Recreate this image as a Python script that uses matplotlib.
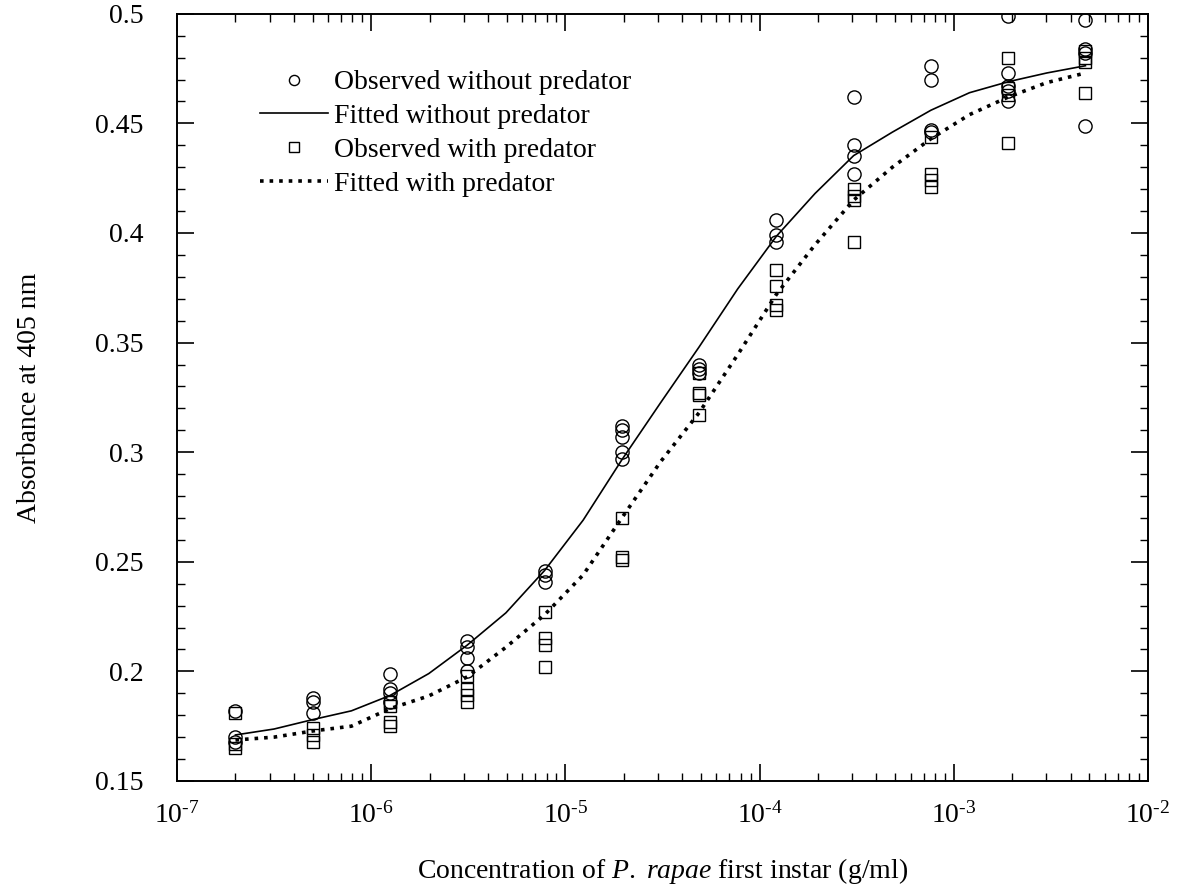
import matplotlib.pyplot as plt
import numpy as np

# serif look like the original (Times-ish)
plt.rcParams['font.family'] = 'Liberation Serif'
plt.rcParams['mathtext.fontset'] = 'custom'
plt.rcParams['mathtext.rm'] = 'Liberation Serif'
plt.rcParams['mathtext.it'] = 'Liberation Serif:italic'

# concentrations (g/ml), 2.5-fold dilution series
conc = [2e-7, 5e-7, 1.25e-6, 3.125e-6, 7.8125e-6, 1.953e-5,
        4.883e-5, 1.221e-4, 3.052e-4, 7.629e-4, 1.907e-3, 4.768e-3]

# observed absorbance, without predator (circles)
obs_without = [
    [0.182, 0.170, 0.168],
    [0.188, 0.186, 0.181],
    [0.199, 0.192, 0.190, 0.186],
    [0.214, 0.211, 0.206, 0.200],
    [0.246, 0.244, 0.241],
    [0.312, 0.310, 0.307, 0.300, 0.297],
    [0.340, 0.338, 0.336],
    [0.406, 0.399, 0.396],
    [0.462, 0.440, 0.435, 0.427],
    [0.476, 0.470, 0.447, 0.446],
    [0.499, 0.473, 0.467, 0.465, 0.460],
    [0.497, 0.484, 0.482, 0.449],
]

# observed absorbance, with predator (squares)
obs_with = [
    [0.181, 0.167, 0.165],
    [0.174, 0.171, 0.168],
    [0.186, 0.184, 0.177, 0.175],
    [0.198, 0.192, 0.189, 0.186],
    [0.227, 0.215, 0.212, 0.202],
    [0.270, 0.252, 0.251],
    [0.336, 0.327, 0.326, 0.317],
    [0.383, 0.376, 0.367, 0.365],
    [0.420, 0.417, 0.415, 0.396],
    [0.444, 0.427, 0.424, 0.421],
    [0.480, 0.466, 0.463, 0.441],
    [0.483, 0.480, 0.478, 0.464],
]

# fitted curves
fit_x = [2e-7, 3.16e-7, 5e-7, 7.91e-7, 1.25e-6, 1.98e-6, 3.125e-6, 4.94e-6,
         7.8125e-6, 1.235e-5, 1.953e-5, 3.09e-5, 4.883e-5, 7.72e-5, 1.221e-4,
         1.93e-4, 3.052e-4, 4.83e-4, 7.629e-4, 1.206e-3, 1.907e-3, 3.015e-3,
         4.768e-3]
fit_without = [0.171, 0.1737, 0.178, 0.182, 0.189, 0.199, 0.212, 0.2267,
               0.246, 0.269, 0.2965, 0.3225, 0.3480, 0.3745, 0.3985, 0.4180,
               0.4353, 0.446, 0.456, 0.464, 0.469, 0.473, 0.4763]
fit_with = [0.1687, 0.170, 0.1728, 0.175, 0.183, 0.1888, 0.1975, 0.211,
            0.2258, 0.244, 0.270, 0.2956, 0.318, 0.3445, 0.372, 0.3946,
            0.415, 0.430, 0.443, 0.454, 0.462, 0.4686, 0.473]

xtick_vals = [1e-7, 1e-6, 1e-5, 1e-4, 1e-3, 1e-2]
xtick_labels = [r'$10^{\text{-}7}$', r'$10^{\text{-}6}$', r'$10^{\text{-}5}$',
                r'$10^{\text{-}4}$', r'$10^{\text{-}3}$', r'$10^{\text{-}2}$']
ytick_vals = [0.15, 0.2, 0.25, 0.3, 0.35, 0.4, 0.45, 0.5]
ytick_labels = ['0.15', '0.2', '0.25', '0.3', '0.35', '0.4', '0.45', '0.5']

fig = plt.figure(figsize=(11.84, 8.9), dpi=100)
ax = fig.add_axes([0.1495, 0.1225, 0.82, 0.862])

xs_o = [c for c, grp in zip(conc, obs_without) for _ in grp]
ys_o = [v for grp in obs_without for v in grp]
xs_s = [c for c, grp in zip(conc, obs_with) for _ in grp]
ys_s = [v for grp in obs_with for v in grp]

ax.plot(xs_o, ys_o, 'o', mfc='none', mec='black', ms=9.5, mew=1.0,
        label='Observed without predator')
ax.plot(fit_x, fit_without, '-', color='black', lw=1.2,
        label='Fitted without predator')
ax.plot(xs_s, ys_s, 's', mfc='none', mec='black', ms=9, mew=1.0,
        label='Observed with predator')
ax.plot(fit_x, fit_with, ':', color='black', lw=2.6,
        label='Fitted with predator')

ax.set_xscale('log')
ax.set_xlim(1e-7, 1e-2)
ax.set_ylim(0.15, 0.5)
ax.set_yticks(ytick_vals)
ax.set_yticklabels(ytick_labels)
ax.set_yticks(np.arange(0.15, 0.501, 0.01), minor=True)
ax.set_xticks(xtick_vals)
ax.set_xticklabels(xtick_labels)

ax.tick_params(which='both', direction='in', top=True, right=True)
ax.tick_params(which='major', length=12, width=1.2)
ax.tick_params(which='minor', length=6, width=1.0)
ax.tick_params(axis='y', which='major', labelsize=20, pad=24)
ax.tick_params(axis='x', which='major', labelsize=20, pad=15)
for s in ax.spines.values():
    s.set_linewidth(1.4)

ax.set_xlabel(r'Concentration of $\mathit{P.}$ $\mathit{rapae}$ first instar (g/ml)',
              fontsize=20, labelpad=20)
ax.set_ylabel('Absorbance at 405 nm', fontsize=20, labelpad=38)

ax.legend(loc='upper left', bbox_to_anchor=(0.0855, 0.927), frameon=False,
          fontsize=20, borderpad=0, borderaxespad=0,
          handlelength=2.45, handletextpad=0.2, labelspacing=0.3,
          markerscale=0.77)

plt.savefig('out.png', dpi=100)
